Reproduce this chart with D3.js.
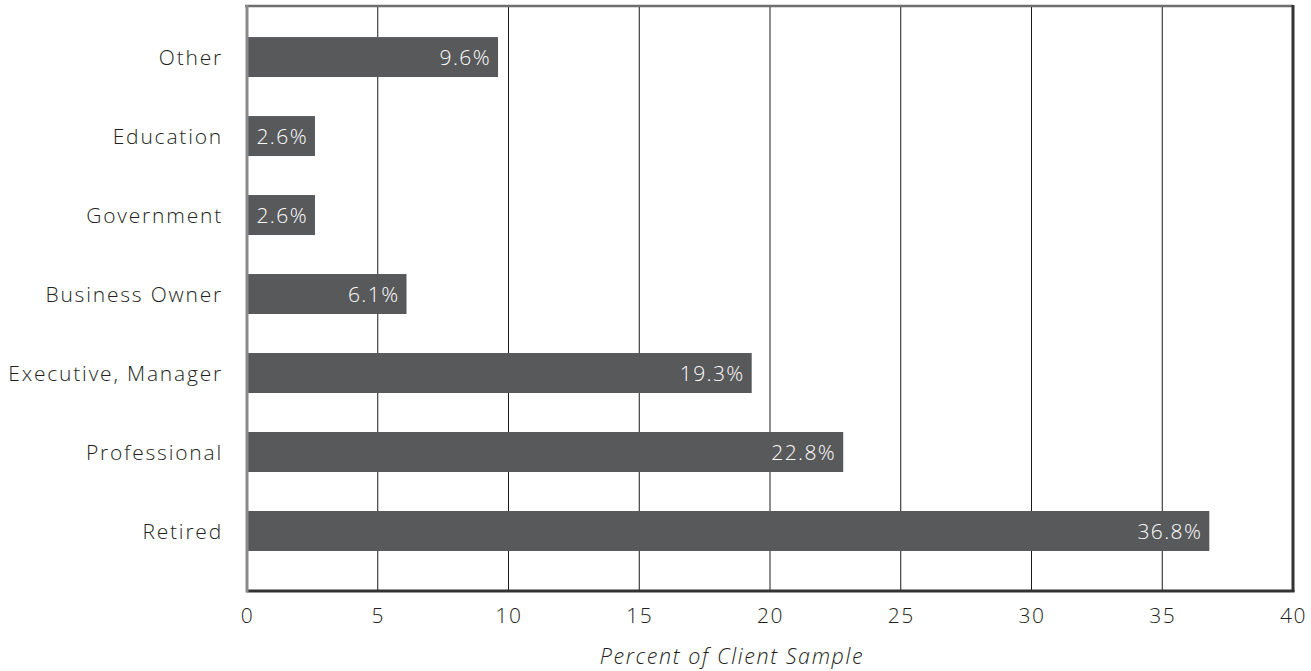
<!DOCTYPE html>
<html>
<head>
<meta charset="utf-8">
<script src="https://cdn.jsdelivr.net/npm/d3@7"></script>
<style>
  html, body { margin: 0; padding: 0; background: #fff; }
  svg text { font-family: "Open Sans", "Lato", sans-serif; font-weight: 300; }
</style>
</head>
<body>
<svg id="chart" width="1311" height="671"></svg>
<script>
// Occupation of clients, percent of sample
const categories = ["Other", "Education", "Government", "Business Owner", "Executive, Manager", "Professional", "Retired"];
const values = [9.6, 2.6, 2.6, 6.1, 19.3, 22.8, 36.8];
const xTicks = [0, 5, 10, 15, 20, 25, 30, 35, 40];
const axisTitle = "Percent of Client Sample";

const svg = d3.select("#chart");
const plotLeft = 247, plotRight = 1293, plotTop = 6, plotBottom = 591;
const fontSize = 21, tracking = "1.4px";

const x = d3.scaleLinear().domain([0, 40]).range([plotLeft, plotRight]);
const y = d3.scaleBand().domain(categories).range([plotTop, plotBottom])
  .paddingInner(0.494).paddingOuter(0.45).align(0.437);

// vertical gridlines
svg.append("g").selectAll("line")
  .data(xTicks.filter(t => t > 0 && t < 40))
  .join("line")
  .attr("x1", d => x(d)).attr("x2", d => x(d))
  .attr("y1", plotTop).attr("y2", plotBottom)
  .attr("stroke", "#1a1a1a").attr("stroke-width", 1);

// bars
svg.append("g").selectAll("rect")
  .data(values)
  .join("rect")
  .attr("x", x(0))
  .attr("y", (d, i) => y(categories[i]))
  .attr("width", d => x(d) - x(0))
  .attr("height", y.bandwidth())
  .attr("fill", "#58595b");

// value labels inside bars
svg.append("g").selectAll("text")
  .data(values)
  .join("text")
  .attr("x", d => x(d) - 7)
  .attr("y", (d, i) => y(categories[i]) + y.bandwidth() / 2)
  .attr("dy", "0.36em")
  .attr("text-anchor", "end")
  .attr("fill", "#ffffff")
  .attr("font-size", fontSize)
  .style("letter-spacing", tracking)
  .text(d => d.toFixed(1) + "%");

// frame
svg.append("line").attr("x1", plotLeft - 2).attr("x2", plotRight).attr("y1", plotTop).attr("y2", plotTop)
  .attr("stroke", "#6d6e70").attr("stroke-width", 2.5);
svg.append("line").attr("x1", plotRight).attr("x2", plotRight).attr("y1", plotTop - 1).attr("y2", plotBottom + 1)
  .attr("stroke", "#333333").attr("stroke-width", 3);
svg.append("line").attr("x1", plotLeft).attr("x2", plotRight + 1.5).attr("y1", plotBottom).attr("y2", plotBottom)
  .attr("stroke", "#333333").attr("stroke-width", 3);
svg.append("line").attr("x1", plotLeft).attr("x2", plotLeft).attr("y1", plotTop - 1).attr("y2", plotBottom + 1.5)
  .attr("stroke", "#8a8a8c").attr("stroke-width", 3);

// x axis
const xAxis = d3.axisBottom(x).tickValues(xTicks).tickSize(0).tickPadding(0).tickFormat(d3.format("d"));
const gx = svg.append("g").attr("transform", `translate(0,${plotBottom})`).call(xAxis);
gx.select(".domain").remove();
gx.selectAll("text")
  .attr("y", 24).attr("dy", "0.36em")
  .attr("font-size", fontSize).attr("fill", "#231f20")
  .style("font-family", "\"Open Sans\", sans-serif")
  .style("font-weight", 300)
  .style("letter-spacing", tracking);

// y axis
const yAxis = d3.axisLeft(y).tickSize(0).tickPadding(0);
const gy = svg.append("g").attr("transform", `translate(${plotLeft - 24},0)`).call(yAxis);
gy.select(".domain").remove();
gy.selectAll("text")
  .attr("dy", "0.36em")
  .attr("font-size", fontSize).attr("fill", "#231f20")
  .style("font-family", "\"Open Sans\", sans-serif")
  .style("font-weight", 300)
  .style("letter-spacing", "1.8px");

// axis title
svg.append("text")
  .attr("x", 732).attr("y", 656).attr("dy", "0.36em")
  .attr("text-anchor", "middle")
  .attr("font-size", 21.5).attr("font-style", "italic").attr("fill", "#231f20")
  .style("letter-spacing", "1.6px")
  .text(axisTitle);
</script>
</body>
</html>
